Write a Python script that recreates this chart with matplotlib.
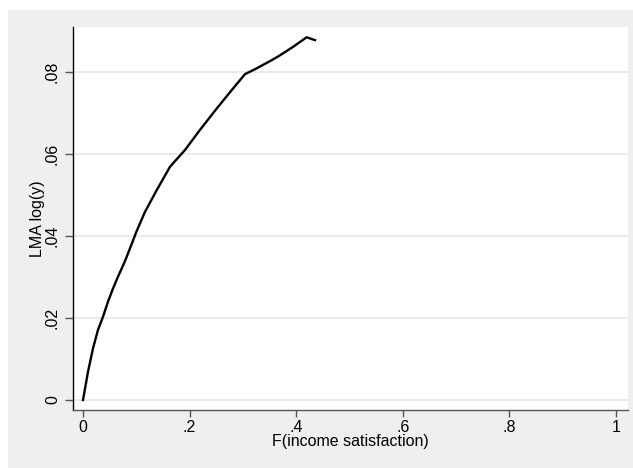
import matplotlib
matplotlib.use("Agg")
import matplotlib.pyplot as plt
from matplotlib.patches import Rectangle

# Cumulative share of income satisfaction vs. LMA of log income
f_income_sat = [0.0, 0.0094, 0.0188, 0.0281, 0.0375, 0.0469, 0.0563, 0.0657,
                0.0782, 0.0906, 0.1000, 0.1163, 0.1383, 0.1632, 0.1914, 0.2195,
                0.2508, 0.2790, 0.3039, 0.3227, 0.3540, 0.3696, 0.3946, 0.4197,
                0.4259, 0.4353]
lma_log_y = [0.0, 0.0069, 0.0126, 0.0171, 0.0203, 0.0240, 0.0272, 0.0301,
             0.0337, 0.0378, 0.0410, 0.0459, 0.0512, 0.0569, 0.0610, 0.0659,
             0.0711, 0.0756, 0.0795, 0.0807, 0.0829, 0.0841, 0.0862, 0.0885,
             0.0882, 0.0878]

x_ticks = [0, 0.2, 0.4, 0.6, 0.8, 1.0]
x_tick_labels = ["0", ".2", ".4", ".6", ".8", "1"]
y_ticks = [0, 0.02, 0.04, 0.06, 0.08]
y_tick_labels = ["0", ".02", ".04", ".06", ".08"]

plt.rcParams["font.family"] = ["Liberation Sans", "DejaVu Sans"]
FS = 11.5

W, H = 633, 468
fig = plt.figure(figsize=(W / 100, H / 100), dpi=100)
fig.patch.set_facecolor("white")
fig.patches.append(Rectangle((8 / W, 0), 1, (H - 10) / H, transform=fig.transFigure,
                             facecolor="#efefef", edgecolor="none", zorder=-10))

ax = fig.add_axes([72.5 / W, 1 - 410 / H, (628 - 72.5) / W, (410 - 27) / H])
ax.set_facecolor("white")

ax.plot(f_income_sat, lma_log_y, color="black", lw=1.7, solid_joinstyle="round")

ax.set_xlim(-0.0197, 1.0225)
ax.set_ylim(-0.00244, 0.0910)

ax.set_xticks(x_ticks)
ax.set_xticklabels(x_tick_labels, fontsize=FS)
ax.set_yticks(y_ticks)
ax.set_yticklabels(y_tick_labels, fontsize=FS, rotation=90, va="center")

ax.grid(axis="y", color="#e6e6e6", lw=1.2)
ax.set_axisbelow(True)

for side in ("top", "right"):
    ax.spines[side].set_visible(False)
ax.spines["left"].set_color("black")
ax.spines["bottom"].set_color("#555555")
ax.spines["left"].set_linewidth(1.0)
ax.spines["bottom"].set_linewidth(1.0)

ax.tick_params(axis="x", length=5, width=1, color="#555555", pad=2)
ax.tick_params(axis="y", length=6, width=1, color="#555555", pad=3)

ax.set_xlabel("F(income satisfaction)", fontsize=FS)
ax.set_ylabel("LMA log(y)", fontsize=FS)
ax.xaxis.set_label_coords(0.5, -0.062)
ax.yaxis.set_label_coords(-0.05, 0.5)

fig.savefig("out.png", dpi=100)
